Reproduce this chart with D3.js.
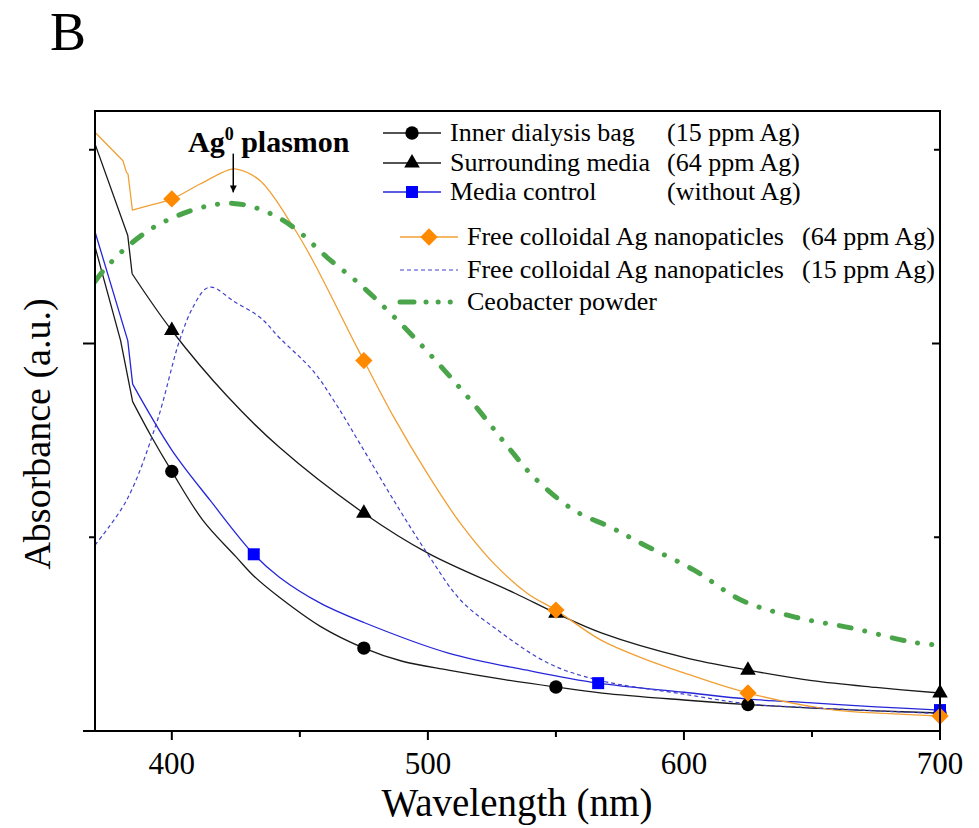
<!DOCTYPE html>
<html>
<head>
<meta charset="utf-8">
<script src="https://cdn.jsdelivr.net/npm/d3@7"></script>
<style>
  html, body { margin: 0; padding: 0; background: #fff; }
  svg { display: block; font-family: "Liberation Serif", "Times New Roman", serif; }
</style>
</head>
<body>
<div id="chart"></div>
<script>
// Spectra (wavelength in nm, absorbance in a.u.)
const innerWl = [370, 380, 384.7, 392, 400, 412, 425, 432, 442, 458, 475, 490, 508, 530, 550, 568, 600, 625, 650, 675, 700];
const innerAbs = [2.50, 2.015, 1.70, 1.52, 1.34, 1.09, 0.90, 0.80, 0.69, 0.54, 0.428, 0.36, 0.314, 0.265, 0.227, 0.196, 0.16, 0.136, 0.118, 0.104, 0.093];

const mediaWl = [370, 382.8, 384.5, 400, 421.5, 442, 475, 500, 534, 550, 568, 600, 625, 650, 675, 700];
const mediaAbs = [3.03, 2.557, 2.36, 2.067, 1.73, 1.464, 1.124, 0.918, 0.711, 0.608, 0.505, 0.38, 0.314, 0.26, 0.225, 0.196];

const controlWl = [370, 382.8, 384.7, 400, 415, 432, 442, 458, 475, 508, 540, 566.5, 600, 625, 650, 675, 700];
const controlAbs = [2.577, 2.015, 1.79, 1.45, 1.19, 0.912, 0.794, 0.66, 0.56, 0.402, 0.31, 0.247, 0.20, 0.165, 0.145, 0.125, 0.108];

const agHighWl = [370, 380.9, 382.3, 382.9, 384.6, 392, 400, 411, 422, 425.3, 434.5, 447.5, 455, 472.3, 475, 486.7, 499.8, 512.8, 525.8, 538.9, 550, 567.6, 585, 600, 625, 659, 680, 700];
const agHighAbs = [3.09, 2.943, 2.883, 2.874, 2.689, 2.715, 2.746, 2.823, 2.895, 2.90, 2.84, 2.60, 2.43, 1.98, 1.912, 1.62, 1.328, 1.07, 0.864, 0.71, 0.624, 0.469, 0.37, 0.30, 0.196, 0.108, 0.09, 0.077];

const agLowWl = [370, 382.3, 394, 403, 408.2, 413, 416, 424, 434.5, 442.3, 455, 464, 473.6, 486.7, 499.8, 512.8, 525.7, 547, 566.5, 600, 625, 650, 700];
const agLowAbs = [0.96, 1.19, 1.588, 2.015, 2.186, 2.28, 2.29, 2.22, 2.134, 2.026, 1.861, 1.69, 1.48, 1.19, 0.916, 0.675, 0.536, 0.35, 0.263, 0.19, 0.14, 0.12, 0.09];

const ceoWl = [370, 373.3, 382.3, 394, 411, 424, 435.8, 447.5, 460.6, 474.8, 495.8, 516.7, 532.4, 541.4, 557, 571.6, 584.5, 604, 622.5, 643.4, 665.7, 689, 700];
const ceoAbs = [2.32, 2.376, 2.496, 2.608, 2.70, 2.723, 2.686, 2.60, 2.445, 2.29, 2.015, 1.706, 1.448, 1.31, 1.14, 1.05, 0.96, 0.83, 0.675, 0.588, 0.531, 0.459, 0.443];

// where each series carries a symbol
const innerMarks = [400, 475, 550, 625, 700];
const mediaMarks = [400, 475, 550, 625, 700];
const controlMarks = [432, 566.5, 700];
const agHighMarks = [400, 475, 550, 625, 700];

const xTicks = [400, 500, 600, 700];
const legendNames = ['Inner dialysis bag', 'Surrounding media', 'Media control',
    'Free colloidal Ag nanopaticles', 'Free colloidal Ag nanopaticles', 'Ceobacter powder'];
const legendNotes = ['(15 ppm Ag)', '(64 ppm Ag)', '(without Ag)', '(64 ppm Ag)', '(15 ppm Ag)', ''];

const width = 979, height = 828;
const margin = { top: 111, right: 39, bottom: 97, left: 95 };

const svg = d3.select('#chart')
    .append('svg')
    .attr('width', width)
    .attr('height', height);

const x = d3.scaleLinear().domain([370, 700]).range([margin.left, width - margin.right]);
const y = d3.scaleLinear().domain([0, 3.2]).range([height - margin.bottom, margin.top]);

const zip = (wl, ab) => wl.map((w, i) => ({ wl: w, abs: ab[i] }));

// kink: the lamp-change step near 384 nm is drawn with straight segments
const series = [
    { key: 'inner', data: zip(innerWl, innerAbs), marks: innerMarks, kink: 384.7, stroke: '#1a1a1a', width: 1.3, dash: null, symbol: 'circle', fill: '#000' },
    { key: 'media', data: zip(mediaWl, mediaAbs), marks: mediaMarks, kink: 384.5, stroke: '#1a1a1a', width: 1.3, dash: null, symbol: 'triangle', fill: '#000' },
    { key: 'control', data: zip(controlWl, controlAbs), marks: controlMarks, kink: 384.7, stroke: '#2626d9', width: 1.3, dash: null, symbol: 'square', fill: '#0000ff' },
    { key: 'agHigh', data: zip(agHighWl, agHighAbs), marks: agHighMarks, kink: 392, stroke: '#f0a035', width: 1.3, dash: null, symbol: 'diamond', fill: '#ff8a00' },
    { key: 'agLow', data: zip(agLowWl, agLowAbs), marks: [], kink: null, stroke: '#4040cc', width: 1.2, dash: '4,3', symbol: null },
    { key: 'ceo', data: zip(ceoWl, ceoAbs), marks: [], kink: null, stroke: '#4aa54a', width: 5, dash: '12,14,0.1,14,0.1,14', symbol: null }
];

const symbolPath = {
    circle: d3.symbol(d3.symbolCircle, 140)(),
    triangle: d3.symbol(d3.symbolTriangle, 105)(),
    square: d3.symbol(d3.symbolSquare, 144)(),
    diamond: d3.symbol(d3.symbolSquare, 150)()
};
const symbolRotate = s => s === 'diamond' ? ' rotate(45)' : '';

// Clip curves to the frame
svg.append('defs').append('clipPath')
    .attr('id', 'plot-clip')
    .append('rect')
    .attr('x', margin.left)
    .attr('y', margin.top)
    .attr('width', width - margin.left - margin.right)
    .attr('height', height - margin.top - margin.bottom);

svg.select('defs').append('marker')
    .attr('id', 'arrow')
    .attr('viewBox', '0 -5 10 10')
    .attr('refX', 10)
    .attr('refY', 0)
    .attr('markerWidth', 7)
    .attr('markerHeight', 7)
    .attr('markerUnits', 'userSpaceOnUse')
    .attr('orient', 'auto')
    .append('path')
    .attr('d', 'M0,-5L10,0L0,5Z')
    .attr('fill', '#000');

const smooth = d3.line()
    .x(d => x(d.wl))
    .y(d => y(d.abs))
    .curve(d3.curveCatmullRom.alpha(0.5));

const straight = d3.line()
    .x(d => x(d.wl))
    .y(d => y(d.abs));

function curvePath(s) {
    if (s.kink == null) return smooth(s.data);
    const head = s.data.filter(d => d.wl <= s.kink);
    const tail = s.data.filter(d => d.wl >= s.kink);
    return straight(head) + smooth(tail);
}

const plot = svg.append('g').attr('clip-path', 'url(#plot-clip)');

plot.selectAll('path.curve')
    .data(series)
    .join('path')
    .attr('class', 'curve')
    .attr('fill', 'none')
    .attr('stroke', d => d.stroke)
    .attr('stroke-width', d => d.width)
    .attr('stroke-dasharray', d => d.dash)
    .attr('stroke-linecap', d => d.key === 'ceo' ? 'round' : 'butt')
    .attr('stroke-linejoin', 'round')
    .attr('d', d => curvePath(d));

// Symbols on the curves
series.filter(s => s.symbol).forEach(s => {
    const pts = s.data.filter(d => s.marks.includes(d.wl));
    svg.append('g')
        .selectAll('path')
        .data(pts)
        .join('path')
        .attr('d', symbolPath[s.symbol])
        .attr('transform', d => `translate(${x(d.wl)},${y(d.abs)})${symbolRotate(s.symbol)}`)
        .attr('fill', s.fill);
});

// Frame
const axes = svg.append('g')
    .attr('stroke', '#000')
    .attr('stroke-width', 2);

axes.append('rect')
    .attr('x', margin.left)
    .attr('y', margin.top)
    .attr('width', width - margin.left - margin.right)
    .attr('height', height - margin.top - margin.bottom)
    .attr('fill', 'none');

// Bottom ticks: major every 100, minor every 50
const xMinor = d3.range(400, 701, 50);
axes.selectAll('line.xt')
    .data(xMinor)
    .join('line')
    .attr('class', 'xt')
    .attr('x1', d => x(d))
    .attr('x2', d => x(d))
    .attr('y1', y(0))
    .attr('y2', d => y(0) + (d % 100 === 0 ? 9 : 6));

// Left ticks outward, right ticks inward
const yMinor = [0, 1, 2, 3];
axes.selectAll('line.yl')
    .data(yMinor)
    .join('line')
    .attr('class', 'yl')
    .attr('x1', margin.left)
    .attr('x2', d => margin.left - (d % 2 === 0 ? 12 : 6))
    .attr('y1', d => y(d))
    .attr('y2', d => y(d));

axes.selectAll('line.yr')
    .data(yMinor.slice(1))
    .join('line')
    .attr('class', 'yr')
    .attr('x1', width - margin.right)
    .attr('x2', d => width - margin.right - (d % 2 === 0 ? 8 : 6))
    .attr('y1', d => y(d))
    .attr('y2', d => y(d));

svg.append('g')
    .selectAll('text')
    .data(xTicks)
    .join('text')
    .attr('x', d => x(d))
    .attr('y', 774)
    .attr('text-anchor', 'middle')
    .attr('font-size', '31px')
    .text(d => d);

// Axis titles
svg.append('text')
    .attr('x', 517)
    .attr('y', 816)
    .attr('text-anchor', 'middle')
    .attr('font-size', '39px')
    .text('Wavelength (nm)');

svg.append('text')
    .attr('transform', 'translate(50,434) rotate(-90)')
    .attr('text-anchor', 'middle')
    .attr('font-size', '38px')
    .text('Absorbance (a.u.)');

// Panel letter
svg.append('text')
    .attr('x', 50)
    .attr('y', 50)
    .attr('font-size', '54px')
    .text('B');

// Plasmon annotation
const note = svg.append('text')
    .attr('x', 188)
    .attr('y', 152)
    .attr('font-size', '30px')
    .attr('font-weight', 'bold');
note.append('tspan').text('Ag');
note.append('tspan').attr('font-size', '18px').attr('dy', -12).text('0');
note.append('tspan').attr('dy', 12).text(' plasmon');

svg.append('line')
    .attr('x1', x(424))
    .attr('x2', x(424))
    .attr('y1', y(2.98))
    .attr('y2', y(2.78))
    .attr('stroke', '#000')
    .attr('stroke-width', 1.5)
    .attr('marker-end', 'url(#arrow)');

// Legend
const legendRowY = [133, 163, 192, 237, 270, 302];
const legend = svg.append('g').attr('font-size', '26px');

series.forEach((s, i) => {
    const indent = i < 3 ? 0 : 17;
    const ly = legendRowY[i];
    const x0 = 383 + indent, x1 = 441 + indent;
    legend.append('line')
        .attr('x1', x0)
        .attr('x2', x1)
        .attr('y1', ly)
        .attr('y2', ly)
        .attr('stroke', s.stroke)
        .attr('stroke-width', s.width)
        .attr('stroke-linecap', s.key === 'ceo' ? 'round' : 'butt')
        .attr('stroke-dasharray', s.key === 'ceo' ? '14,12,0.1,12,0.1,12,0.1' : s.dash);
    if (s.symbol) {
        legend.append('path')
            .attr('d', symbolPath[s.symbol])
            .attr('transform', `translate(${(x0 + x1) / 2},${ly})${symbolRotate(s.symbol)}`)
            .attr('fill', s.fill);
    }
    legend.append('text')
        .attr('x', x1 + 9)
        .attr('y', ly)
        .attr('dy', '0.32em')
        .text(legendNames[i]);
    legend.append('text')
        .attr('x', i < 3 ? 667 : 802)
        .attr('y', ly)
        .attr('dy', '0.32em')
        .text(legendNotes[i]);
});
</script>
</body>
</html>
